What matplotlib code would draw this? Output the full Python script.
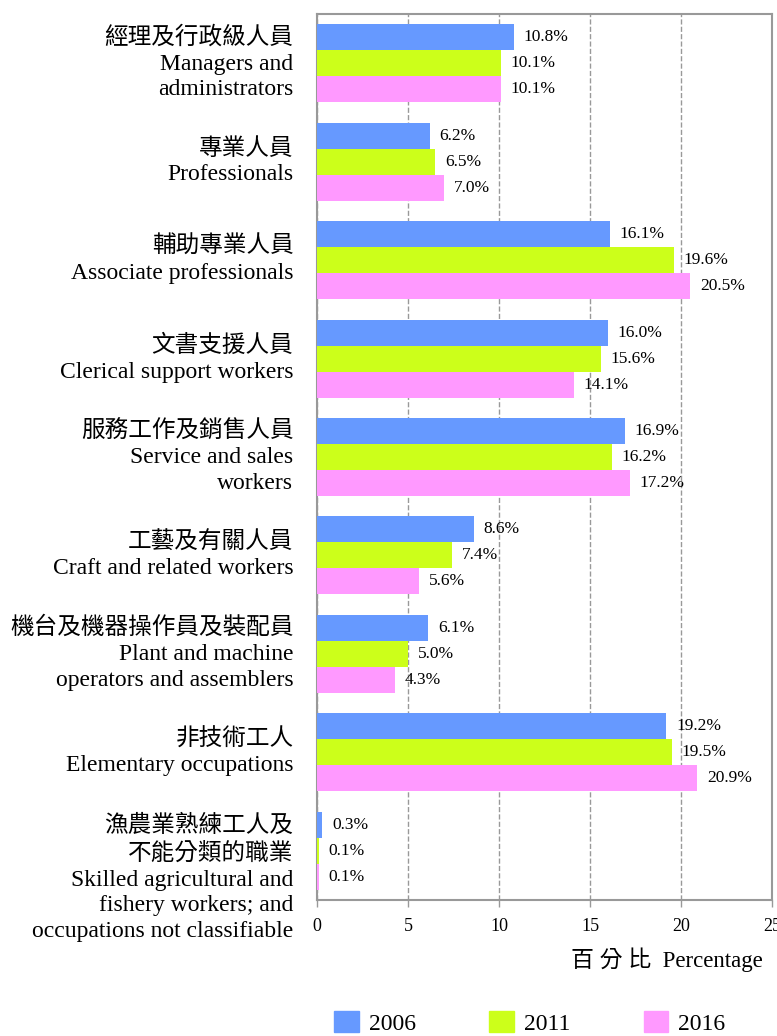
import numpy as np
import matplotlib.pyplot as plt
from matplotlib.patches import Patch

plt.rcParams['font.family'] = ['Liberation Serif', 'Noto Sans CJK TC']

cats = ['經理及行政級人員\nManagers and\nadministrators',
        '專業人員\nProfessionals',
        '輔助專業人員\nAssociate professionals',
        '文書支援人員\nClerical support workers',
        '服務工作及銷售人員\nService and sales\nworkers',
        '工藝及有關人員\nCraft and related workers',
        '機台及機器操作員及裝配員\nPlant and machine\noperators and assemblers',
        '非技術工人\nElementary occupations',
        '漁農業熟練工人及\n不能分類的職業\nSkilled agricultural and\nfishery workers; and\noccupations not classifiable']
years = ['2006', '2011', '2016']
v2006 = [10.8, 6.2, 16.1, 16.0, 16.9, 8.6, 6.1, 19.2, 0.3]
v2011 = [10.1, 6.5, 19.6, 15.6, 16.2, 7.4, 5.0, 19.5, 0.1]
v2016 = [10.1, 7.0, 20.5, 14.1, 17.2, 5.6, 4.3, 20.9, 0.1]
colors = ['#6699FF', '#CCFF1A', '#FF99FF']

fig = plt.figure(figsize=(7.77, 10.36), dpi=100)
ax = fig.add_axes([0.408, 0.1313, 0.5856, 0.8552])

y = np.arange(len(cats))
h = 0.264
for i, (vals, c) in enumerate(zip([v2006, v2011, v2016], colors)):
    pos = y + (i - 1) * h
    ax.barh(pos, vals, height=h, color=c, zorder=3)
    for p, v in zip(pos, vals):
        ax.annotate(f'{v:.1f}%', (v, p), xytext=(7, 0), textcoords='offset points',
                    ha='left', va='center', fontsize=12.5, annotation_clip=False)

ax.set_xlim(0, 25)
ax.set_ylim(len(cats) - 0.5, -0.5)
ax.set_xticks([0, 5, 10, 15, 20, 25])
ax.tick_params(axis='x', labelsize=13, color='#999999', length=5, width=1, pad=8)
ax.set_yticks([])
ax.grid(axis='x', linestyle='--', color='#999999', linewidth=1, zorder=0)
for s in ax.spines.values():
    s.set_color('#999999')
    s.set_linewidth(1.5)

# category labels to the left of the axes
for k, lab in enumerate(cats):
    dy = -20 if k == len(cats) - 1 else 0
    ax.annotate(lab, (0, k), xycoords=('axes fraction', 'data'), xytext=(-17, dy),
                textcoords='offset points', ha='right', va='center',
                fontsize=17, linespacing=1.3, multialignment='right')

fig.text(763 / 777, 1 - 960 / 1036, '百 分 比  Percentage', ha='right', va='center', fontsize=16.5)

handles = [Patch(color=c) for c in colors]
fig.legend(handles, years, loc='center', bbox_to_anchor=(530 / 777, 1 - 1023 / 1036),
           ncol=3, frameon=False, fontsize=17, handlelength=1.05, handleheight=1.0,
           handletextpad=0.42, columnspacing=3.1)

fig.savefig('out.png', dpi=100)
